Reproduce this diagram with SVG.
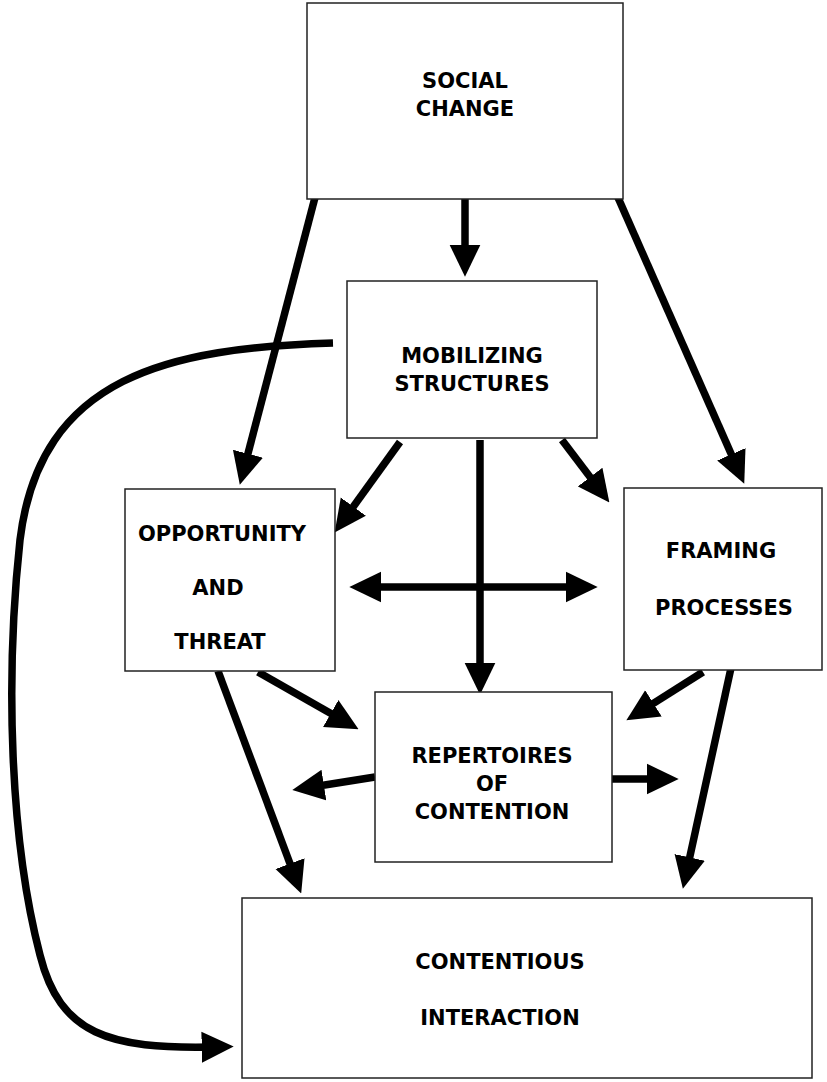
<svg xmlns="http://www.w3.org/2000/svg" width="827" height="1082" viewBox="0 0 827 1082">
<defs>
<style>
.box{fill:#fff;stroke:#222;stroke-width:1.5}
.lbl{font-family:"DejaVu Sans",sans-serif;font-weight:bold;font-size:21px;fill:#000;text-anchor:middle}
.c{fill:none;stroke:#000;stroke-width:7.5;marker-end:url(#ah)}
</style>
<marker id="ah" markerUnits="userSpaceOnUse" markerWidth="32" markerHeight="32" viewBox="0 0 31 30" refX="10" refY="15" orient="auto-start-reverse">
<path d="M0,0 L31,15 L0,30 z" fill="#000"/>
</marker>
</defs>
<rect width="827" height="1082" fill="#fff"/>
<g id="connectors">
<line class="c" x1="318" y1="186" x2="245.3" y2="463.7"/>
<line class="c" x1="465" y1="185" x2="465" y2="255"/>
<line class="c" x1="612" y1="184" x2="735.5" y2="463.8"/>
<line class="c" x1="400" y1="442" x2="347.3" y2="515"/>
<line class="c" x1="480" y1="440" x2="480" y2="673"/>
<line class="c" x1="562" y1="440" x2="596.3" y2="485.3"/>
<line class="c" x1="371" y1="587" x2="576" y2="587" marker-start="url(#ah)"/>
<line class="c" x1="258" y1="672" x2="339.7" y2="718.6"/>
<line class="c" x1="218" y1="671" x2="293.6" y2="873.3"/>
<line class="c" x1="703" y1="672" x2="644.7" y2="708.8"/>
<line class="c" x1="731" y1="668" x2="687.5" y2="867.5"/>
<line class="c" x1="375" y1="777" x2="313.7" y2="786.7"/>
<line class="c" x1="612" y1="779" x2="657" y2="779"/>
<path class="c" d="M333,343 C170,348 40,375 20,540 C5,680 10,840 40,955 C60,1035 110,1049 212,1047"/>
</g>
<g id="social-change">
<rect class="box" x="307" y="3" width="316" height="196"/>
<text class="lbl" x="465" y="88">SOCIAL</text>
<text class="lbl" x="465" y="116">CHANGE</text>
</g>
<g id="mobilizing-structures">
<rect class="box" x="347" y="281" width="250" height="157"/>
<text class="lbl" x="472" y="363">MOBILIZING</text>
<text class="lbl" x="472" y="391">STRUCTURES</text>
</g>
<g id="opportunity-threat">
<rect class="box" x="125" y="489" width="210" height="182"/>
<text class="lbl" x="222" y="541">OPPORTUNITY</text>
<text class="lbl" x="218" y="595">AND</text>
<text class="lbl" x="220" y="649">THREAT</text>
</g>
<g id="framing-processes">
<rect class="box" x="624" y="488" width="198" height="182"/>
<text class="lbl" x="721" y="558">FRAMING</text>
<text class="lbl" x="724" y="615">PROCESSES</text>
</g>
<g id="repertoires">
<rect class="box" x="375" y="692" width="237" height="170"/>
<text class="lbl" x="492" y="763">REPERTOIRES</text>
<text class="lbl" x="492" y="791">OF</text>
<text class="lbl" x="492" y="819">CONTENTION</text>
</g>
<g id="contentious-interaction">
<rect class="box" x="242" y="898" width="570" height="180"/>
<text class="lbl" x="500" y="969">CONTENTIOUS</text>
<text class="lbl" x="500" y="1025">INTERACTION</text>
</g>
</svg>
